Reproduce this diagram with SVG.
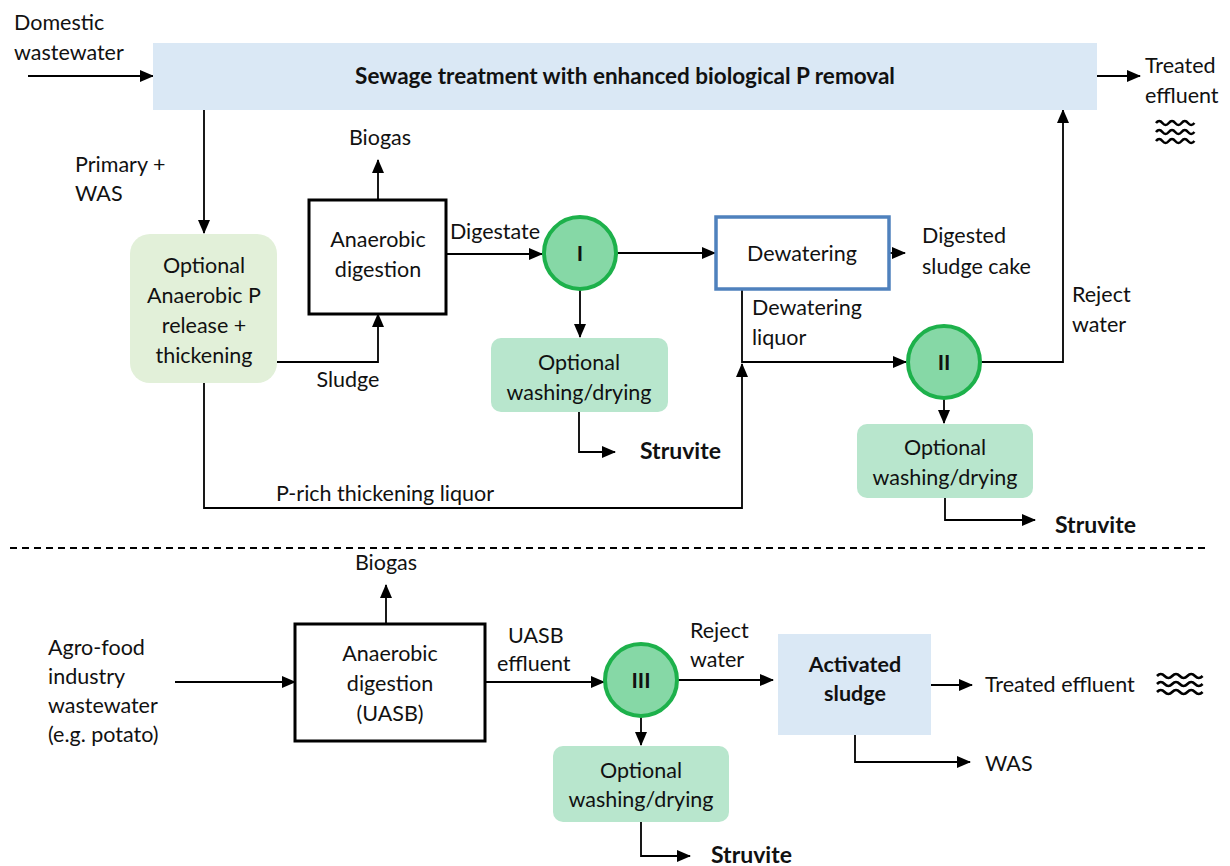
<svg xmlns="http://www.w3.org/2000/svg" width="1230" height="866" viewBox="0 0 1230 866">
<defs>
<marker id="ah" markerUnits="userSpaceOnUse" markerWidth="14" markerHeight="12" refX="13" refY="6" orient="auto">
<path d="M0,0 L14,6 L0,12 Z" fill="#000"/>
</marker>
<path id="wave" d="M0,0 q3.2,-4 6.4,0 t6.4,0 t6.4,0 t6.4,0 t6.4,0 t6.4,0" fill="none" stroke="#000" stroke-width="2.6"/>
<path id="wave2" d="M0,0 q3.8,-4 7.6,0 t7.6,0 t7.6,0 t7.6,0 t7.6,0 t7.6,0" fill="none" stroke="#000" stroke-width="2.6"/>
</defs>
<style>
text{font-family:Lato,"Open Sans","Liberation Sans",sans-serif;font-size:21.5px;fill:#111}
.c{text-anchor:middle}
.b{font-weight:bold}
.t{font-size:22.5px}
.s{font-size:23px}
.ar{fill:none;stroke:#000;stroke-width:1.8;marker-end:url(#ah)}
.circ{fill:#86d8a6;stroke:#1db14b;stroke-width:4}
.opt{fill:#b8e6cd}
.blue{fill:#dae8f5}
</style>
<rect width="1230" height="866" fill="#fff"/>

<g id="connectors">
<path class="ar" d="M28,76 H153"/>
<path class="ar" d="M1097,76 H1140"/>
<path class="ar" d="M204,110 V233"/>
<path class="ar" d="M378,200 V160"/>
<path class="ar" d="M277,362 H378 V314"/>
<path class="ar" d="M446,254 H542"/>
<path class="ar" d="M617,253 H715"/>
<path class="ar" d="M889,253 H905"/>
<path class="ar" d="M580,290 V337"/>
<path class="ar" d="M579,412 V452 H615"/>
<path class="ar" d="M742,289 V362 H906"/>
<path class="ar" d="M204,383 V508 H742 V364"/>
<path class="ar" d="M981,362 H1063 V110"/>
<path class="ar" d="M944,399 V423"/>
<path class="ar" d="M945,498 V520 H1035"/>
<path d="M10,548 H1210" fill="none" stroke="#000" stroke-width="1.8" stroke-dasharray="7,5"/>
<path class="ar" d="M386,624 V585"/>
<path class="ar" d="M175,682 H295"/>
<path class="ar" d="M485,682 H604"/>
<path class="ar" d="M678,680 H773"/>
<path class="ar" d="M931,685 H972"/>
<path class="ar" d="M855,735 V762 H970"/>
<path class="ar" d="M641,717 V745"/>
<path class="ar" d="M641,822 V856 H690"/>
</g>

<g id="sewage">
<rect class="blue" x="153" y="43" width="944" height="67"/>
<text class="c b t" x="625" y="84">Sewage treatment with enhanced biological P removal</text>
</g>
<g id="domestic"><text x="14" y="30">Domestic</text><text x="14" y="60">wastewater</text></g>
<g id="treated1"><text x="1145" y="73">Treated</text><text x="1145" y="103">effluent</text>
<use href="#wave" x="1156" y="123"/><use href="#wave" x="1156" y="132"/><use href="#wave" x="1156" y="141"/></g>
<g id="primary"><text x="75" y="172">Primary +</text><text x="75" y="201">WAS</text></g>

<g id="thick">
<rect x="130" y="234" width="147" height="149" rx="20" fill="#e2f0d9"/>
<text class="c" x="204" y="273">Optional</text>
<text class="c" x="204" y="303">Anaerobic P</text>
<text class="c" x="204" y="333">release +</text>
<text class="c" x="204" y="363">thickening</text>
</g>
<g id="ad1">
<rect x="309" y="200" width="137" height="114" fill="#fff" stroke="#000" stroke-width="3"/>
<text class="c" x="378" y="247">Anaerobic</text>
<text class="c" x="378" y="277">digestion</text>
</g>
<g id="biogas1"><text class="c" x="380" y="145">Biogas</text></g>
<g id="sludge"><text class="c" x="348" y="387">Sludge</text></g>
<g id="digestate"><text class="c" x="495" y="239">Digestate</text></g>
<g id="c1"><circle class="circ" cx="580" cy="253" r="36"/><text class="c b" x="580" y="261">I</text></g>
<g id="dew">
<rect x="716" y="217" width="173" height="72" fill="#fff" stroke="#4f81bd" stroke-width="3.5"/>
<text class="c" x="802" y="261">Dewatering</text>
</g>
<g id="cake"><text x="922" y="243">Digested</text><text x="922" y="274">sludge cake</text></g>
<g id="opt1">
<rect class="opt" x="491" y="338" width="177" height="74" rx="10"/>
<text class="c" x="579" y="370">Optional</text>
<text class="c" x="579" y="400">washing/drying</text>
</g>
<g id="struv1"><text class="b s" x="640" y="459">Struvite</text></g>
<g id="dewliq"><text x="752" y="315">Dewatering</text><text x="752" y="345">liquor</text></g>
<g id="prich"><text class="c" x="385" y="501">P-rich thickening liquor</text></g>
<g id="c2"><circle class="circ" cx="944" cy="362" r="36"/><text class="c b" x="944" y="370">II</text></g>
<g id="reject1"><text x="1072" y="302">Reject</text><text x="1072" y="332">water</text></g>
<g id="opt2">
<rect class="opt" x="857" y="424" width="176" height="74" rx="10"/>
<text class="c" x="945" y="455">Optional</text>
<text class="c" x="945" y="485">washing/drying</text>
</g>
<g id="struv2"><text class="b s" x="1055" y="533">Struvite</text></g>

<g id="biogas2"><text class="c" x="386" y="570">Biogas</text></g>
<g id="agro"><text x="48" y="655">Agro-food</text><text x="48" y="684">industry</text><text x="48" y="713">wastewater</text><text x="48" y="742">(e.g. potato)</text></g>
<g id="ad2">
<rect x="295" y="624" width="190" height="117" fill="#fff" stroke="#000" stroke-width="3"/>
<text class="c" x="390" y="661">Anaerobic</text>
<text class="c" x="390" y="691">digestion</text>
<text class="c" x="390" y="721">(UASB)</text>
</g>
<g id="uasb"><text x="508" y="643">UASB</text><text x="497" y="671">effluent</text></g>
<g id="c3"><circle class="circ" cx="641" cy="680" r="36"/><text class="c b" x="641" y="688">III</text></g>
<g id="reject2"><text x="690" y="638">Reject</text><text x="690" y="667">water</text></g>
<g id="as">
<rect class="blue" x="778" y="634" width="153" height="101"/>
<text class="c b" x="855" y="672">Activated</text>
<text class="c b" x="855" y="701">sludge</text>
</g>
<g id="treated2"><text x="985" y="692">Treated effluent</text>
<use href="#wave2" x="1157" y="676"/><use href="#wave2" x="1157" y="684"/><use href="#wave2" x="1157" y="692"/></g>
<g id="was"><text x="985" y="771">WAS</text></g>
<g id="opt3">
<rect class="opt" x="553" y="746" width="176" height="76" rx="10"/>
<text class="c" x="641" y="778">Optional</text>
<text class="c" x="641" y="807">washing/drying</text>
</g>
<g id="struv3"><text class="b s" x="711" y="863">Struvite</text></g>
</svg>
